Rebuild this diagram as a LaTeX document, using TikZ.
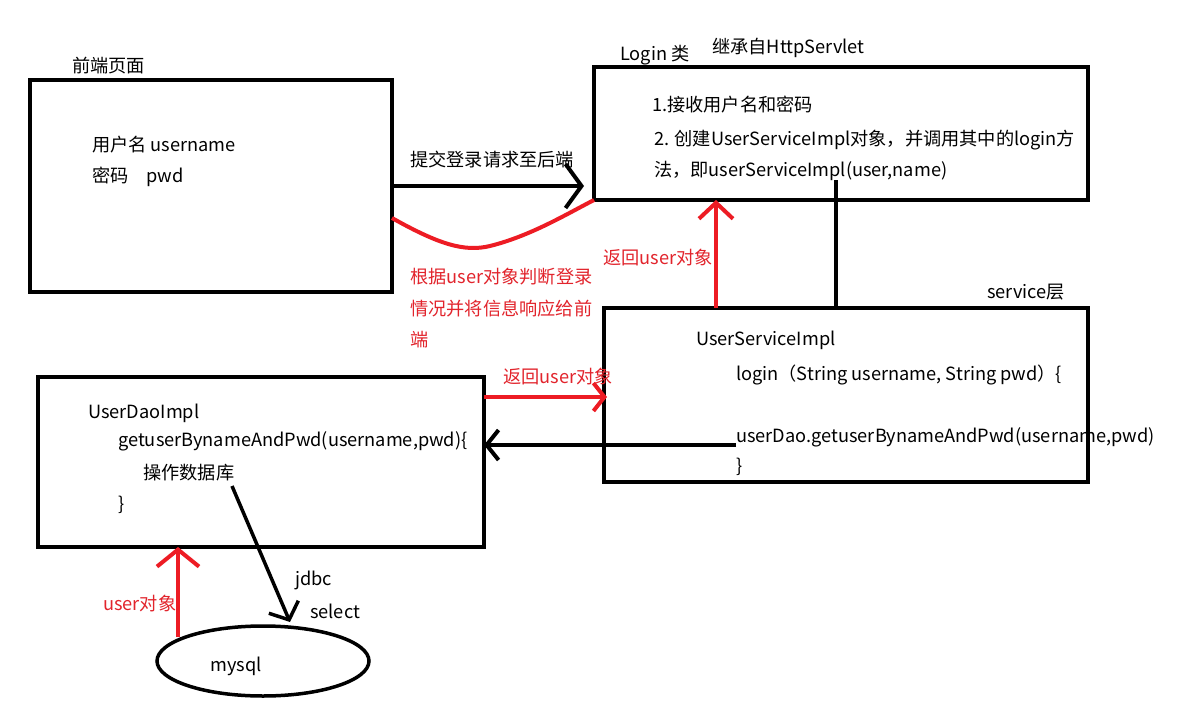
\documentclass[tikz,border=0pt]{standalone}
\usepackage{fontspec}
\setmainfont{Noto Sans CJK SC}
\usetikzlibrary{arrows.meta,calc,shapes.geometric}
\definecolor{pred}{RGB}{237,28,36}
\definecolor{tred}{RGB}{226,36,44}
\tikzset{
  box/.style={draw=black, line width=4pt, rectangle, inner sep=0pt, outer sep=0pt},
  txt/.style={anchor=west, inner sep=0pt, font=\fontsize{18.2}{21}\selectfont},
  rtxt/.style={txt, text=tred},
  blk/.style={draw=black, line width=4pt},
  rln/.style={draw=pred, line width=4pt},
}
\begin{document}
\begin{tikzpicture}[x=1pt,y=-1pt]
\useasboundingbox[fill=white] (0,0) rectangle (1178,707);
% boxes
\node[box, minimum width=362, minimum height=212] (front) at (211,186) {};
\node[box, minimum width=494, minimum height=133] (login) at (841,133.5) {};
\node[box, minimum width=484, minimum height=174] (service) at (846,395) {};
\node[box, minimum width=446, minimum height=170] (dao) at (261,462) {};
\node[draw=black, line width=3.5pt, ellipse, inner sep=0pt, outer sep=0pt, minimum width=212, minimum height=70] (mysql) at (263,661) {};

% labels above boxes
\node[txt] (tfront) at (72,66) {前端页面};
\node[txt] (tlogin) at (620,55) {Login 类};
\node[txt] (tinherit) at (712,48) {继承自HttpServlet};
\node[txt] (tservice) at (987,292) {service层};

% front box text
\node[txt] (u1) at (92,145) {用户名 username};
\node[txt] (u2) at (92,177) {密码\hspace{18pt}pwd};

% login box text
\node[txt] (l1) at (652,105) {1.接收用户名和密码};
\node[txt] (l2) at (654,140) {2. 创建UserServiceImpl对象，并调用其中的login方};
\node[txt] (l3) at (654,171) {法，即userServiceImpl(user,name)};

% service box text
\node[txt] (s1) at (696,340) {UserServiceImpl};
\node[txt] (s2) at (736,375) {login（String username, String pwd）\{};
\node[txt] (s3) at (736,437) {userDao.getuserBynameAndPwd(username,pwd)};
\node[txt] (s4) at (736,467) {\}};

% dao box text
\node[txt] (d1) at (88,413) {UserDaoImpl};
\node[txt] (d2) at (118,441) {getuserBynameAndPwd(username,pwd)\{};
\node[txt] (d3) at (143,473) {操作数据库};
\node[txt] (d4) at (118,505) {\}};

\node[txt] (mq) at (210,666) {mysql};
\node[txt] (jdbc) at (295,580) {jdbc};
\node[txt] (sel) at (310,611) {select};

% red texts
\node[txt] (submit) at (410,160) {提交登录请求至后端};
\node[rtxt] (r1) at (410,277) {根据user对象判断登录};
\node[rtxt] (r2) at (410,309) {情况并将信息响应给前};
\node[rtxt] (r3) at (410,340) {端};
\node[rtxt] (ret1) at (603,258) {返回user对象};
\node[rtxt] (ret2) at (503,377) {返回user对象};
\node[rtxt] (uo) at (103,604) {user对象};

% connectors
\draw[blk, -{Straight Barb[length=16pt,width=44pt]}, shorten >=10pt] (front.east) -- (login.west |- front.east);
\draw[rln] ($(front.east)+(0,32)$) .. controls (440,245) and (465,252) .. (490,246) .. controls (530,236) and (565,215) .. (login.south west);
\coordinate (rs) at ($(service.north west)+(112,0)$);
\draw[rln, -{Straight Barb[length=16pt,width=34pt]}] (rs) -- (rs |- login.south);
\coordinate (ls) at (836,180);
\draw[blk] (ls) -- (ls |- service.north);
\coordinate (dr) at ($(dao.north east)+(0,20)$);
\draw[rln, -{Straight Barb[length=11pt,width=28pt]}, shorten >=-3pt] (dr) -- (dr -| service.west);
\coordinate (sl) at (736,445);
\draw[blk, -{Straight Barb[length=12pt,width=30pt]}] (sl) -- (sl -| dao.east);
\coordinate (jd) at (232,486);
\coordinate (je) at (290,622);
\draw[draw=black, line width=3.5pt, -{Straight Barb[length=14pt,width=32pt]}] (jd) -- (je);
\coordinate (ub) at (178,637);
\draw[rln, -{Straight Barb[length=17pt,width=42pt]}] (ub) -- (ub |- dao.south);
\end{tikzpicture}
\end{document}
